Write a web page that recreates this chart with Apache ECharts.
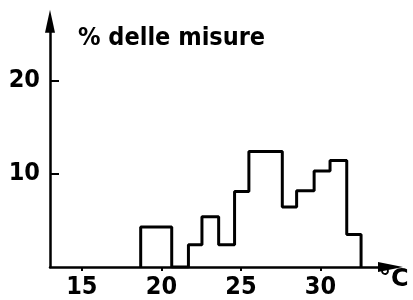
<!DOCTYPE html>
<html>
<head>
<meta charset="utf-8">
<script src="https://cdn.jsdelivr.net/npm/echarts@6/dist/echarts.min.js"></script>
<style>html,body{margin:0;padding:0;background:#fff}#c{width:413px;height:300px}</style>
</head>
<body>
<div id="c"></div>
<script>
// Histogram bin edges (°C) and % of measurements per bin
const binEdges = [18.7, 20.65, 21.7, 22.55, 23.6, 24.6, 25.5, 27.6, 28.5, 29.6, 30.6, 31.65, 32.55];
const percentages = [4.3, 0, 2.4, 5.4, 2.4, 8.1, 12.4, 6.45, 8.2, 10.3, 11.45, 3.5];
const xTicks = [15, 20, 25, 30];
const yTicks = [10, 20];
const yTitle = '% delle misure';
const xTitle = '°C';

const outline = [[binEdges[0], 0]];
for (let i = 0; i < percentages.length; i++) {
  outline.push([binEdges[i], percentages[i]]);
  outline.push([binEdges[i + 1], percentages[i]]);
}
outline.push([binEdges[binEdges.length - 1], 0]);

const FONT = 'DejaVu Sans Condensed';
const chart = echarts.init(document.getElementById('c'), null, {renderer: 'canvas'});
chart.setOption({
  backgroundColor: '#fff',
  animation: false,
  title: [{
    text: yTitle, left: 73, top: 21,
    textStyle: {fontFamily: FONT, fontWeight: 'bold', fontSize: 25, color: '#000'}
  }, {
    text: xTitle, left: 374, top: 263,
    textStyle: {fontFamily: 'DejaVu Sans', fontWeight: 'bold', fontSize: 24, color: '#000'}
  }],
  grid: {left: 50, right: 22.5, top: 21.2, bottom: 32.5, containLabel: false},
  xAxis: {
    type: 'value', min: 13, max: 34.4,
    axisLine: {show: true, lineStyle: {color: '#000', width: 2.5}, symbol: ['none', 'triangle'], symbolSize: [10, 25]},
    axisTick: {show: true, customValues: xTicks, length: 4, inside: false, lineStyle: {color: '#000', width: 2}},
    axisLabel: {customValues: xTicks, fontFamily: FONT, fontWeight: 'bold', fontSize: 25, color: '#000', margin: 8},
    splitLine: {show: false}
  },
  yAxis: {
    type: 'value', min: 0, max: 26.4,
    axisLine: {show: true, lineStyle: {color: '#000', width: 2.5}, symbol: ['none', 'triangle'], symbolSize: [10, 23]},
    axisTick: {show: true, customValues: yTicks, length: 9, inside: true, lineStyle: {color: '#000', width: 2}},
    axisLabel: {customValues: yTicks, fontFamily: FONT, fontWeight: 'bold', fontSize: 25, color: '#000', margin: 10},
    splitLine: {show: false}
  },
  series: [{
    type: 'line', data: outline, symbol: 'none', silent: true,
    lineStyle: {color: '#000', width: 3}, z: 3
  }]
});
</script>
</body>
</html>
